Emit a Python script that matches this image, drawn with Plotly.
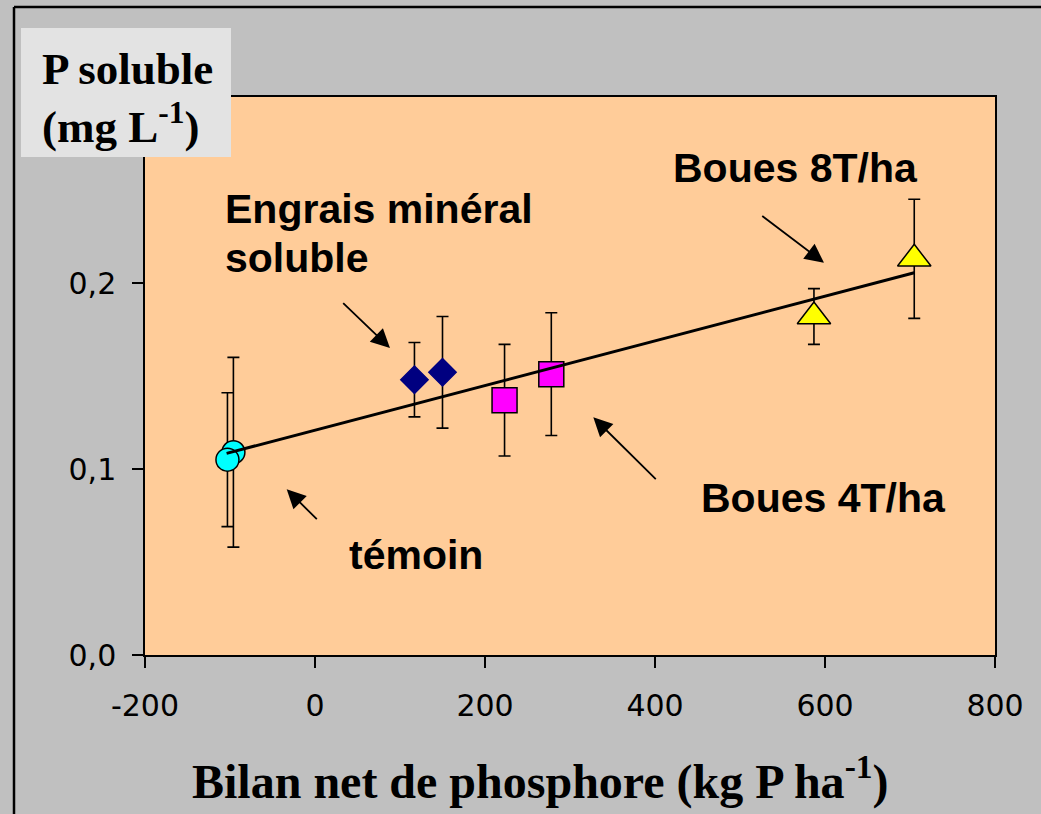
import plotly.graph_objects as go

# ---- data ----
temoin_x = [-96, -103]
temoin_y = [0.109, 0.105]
temoin_err = [0.051, 0.036]

engrais_x = [117, 150]
engrais_y = [0.148, 0.152]
engrais_err = [0.020, 0.030]

boues4_x = [223, 278]
boues4_y = [0.137, 0.151]
boues4_err = [0.030, 0.033]

boues8_x = [587, 705]
boues8_y = [0.182, 0.213]
boues8_err = [0.015, 0.032]

trend_x = [-104, 705]
trend_y = [0.1084, 0.2055]

x_ticks = [-200, 0, 200, 400, 600, 800]
x_ticktext = ["-200", "0", "200", "400", "600", "800"]
y_ticks = [0.0, 0.1, 0.2]
y_ticktext = ["0,0", "0,1", "0,2"]

# ---- figure ----
W, H = 1041, 814
L, R, T, B = 145, 46, 97, 159
pw, ph = W - L - R, H - T - B

def px(xp):
    return (xp - L) / pw

def py(yp):
    return (H - B - yp) / ph

fig = go.Figure()

def add_series(x, y, err, symbol, size, color, lcolor):
    fig.add_trace(go.Scatter(
        x=x, y=y, mode="markers",
        marker=dict(symbol=symbol, size=size, color=color,
                    line=dict(color=lcolor, width=1.5)),
        error_y=dict(type="data", array=err, visible=True,
                     color="black", thickness=1.6, width=6),
        showlegend=False, hoverinfo="skip"))

add_series(temoin_x, temoin_y, temoin_err, "circle", 23, "#00FFFF", "black")
add_series(engrais_x, engrais_y, engrais_err, "diamond", 21, "#000080", "#000080")
add_series(boues4_x, boues4_y, boues4_err, "square", 25, "#FF00FF", "black")
add_series(boues8_x, boues8_y, boues8_err, "triangle-up", 29, "#FFFF00", "black")

fig.add_trace(go.Scatter(x=trend_x, y=trend_y, mode="lines",
                         line=dict(color="black", width=3),
                         showlegend=False, hoverinfo="skip"))

ann_font = dict(family="Liberation Sans, Arial", size=41, color="black")

def label(text, xd, yd, xanchor="center"):
    fig.add_annotation(x=xd, y=yd, xref="x", yref="y", text="<b>%s</b>" % text,
                       showarrow=False, font=ann_font, xanchor=xanchor, yanchor="middle")

def arrow(x0, y0, x1, y1):
    fig.add_annotation(x=x1, y=y1, ax=x0, ay=y0, xref="x", yref="y",
                       axref="x", ayref="y", text="", showarrow=True,
                       arrowhead=2, arrowsize=2.1, arrowwidth=1.8, arrowcolor="black")

label("Engrais minéral", -108, 0.2398, "left")
label("soluble", -108, 0.2134, "left")
label("témoin", 119, 0.0538)
label("Boues 4T/ha", 598, 0.0844)
label("Boues 8T/ha", 565, 0.2618)

arrow(31.4, 0.190, 88.2, 0.165)
arrow(3.9, 0.0722, -33.3, 0.0891)
arrow(402.7, 0.0937, 327.4, 0.1278)
arrow(524.4, 0.2366, 598.8, 0.2109)

title_font = dict(family="Liberation Serif, Times New Roman", size=45, color="black")
fig.add_annotation(x=px(40), y=py(69), xref="paper", yref="paper",
                   text="<b>P soluble</b>", showarrow=False, font=title_font,
                   xanchor="left", yanchor="middle")
fig.add_annotation(x=px(40), y=py(123), xref="paper", yref="paper",
                   text="<b>(mg L<sup>-1</sup>)</b>", showarrow=False, font=title_font,
                   xanchor="left", yanchor="middle")
fig.add_annotation(x=px(540), y=py(778), xref="paper", yref="paper",
                   text="<b>Bilan net de phosphore (kg P ha<sup>-1</sup>)</b>",
                   showarrow=False, font=dict(family="Liberation Serif, Times New Roman", size=48, color="black"),
                   xanchor="center", yanchor="middle")

# frame and title box
fig.add_shape(type="line", xref="paper", yref="paper", x0=px(14), x1=px(1060),
              y0=py(7), y1=py(7), line=dict(color="black", width=2.5))
fig.add_shape(type="line", xref="paper", yref="paper", x0=px(14), x1=px(14),
              y0=py(7), y1=py(830), line=dict(color="black", width=2.5))
fig.add_shape(type="rect", xref="paper", yref="paper", x0=px(21), x1=px(231),
              y0=py(157), y1=py(28), fillcolor="#E3E3E3", line=dict(width=0), layer="above")

tick_font = dict(family="DejaVu Sans", size=30, color="black")
fig.update_xaxes(range=[-200, 800], tickvals=x_ticks, ticktext=x_ticktext,
                 showgrid=False, zeroline=False, showline=True, linecolor="black",
                 linewidth=1.5, mirror=True, ticks="outside", ticklen=11,
                 tickwidth=1.5, tickcolor="black", tickfont=tick_font,
                 ticklabelstandoff=12)
fig.update_yaxes(range=[0, 0.3], tickvals=y_ticks, ticktext=y_ticktext,
                 showgrid=False, zeroline=False, showline=True, linecolor="black",
                 linewidth=1.5, mirror=True, ticks="outside", ticklen=11,
                 tickwidth=1.5, tickcolor="black", tickfont=tick_font,
                 ticklabelstandoff=10)

fig.update_layout(width=W, height=H, autosize=False,
                  margin=dict(l=L, r=R, t=T, b=B, pad=0),
                  paper_bgcolor="#C0C0C0", plot_bgcolor="#FFCC99",
                  showlegend=False)

fig.write_html("out.html")
